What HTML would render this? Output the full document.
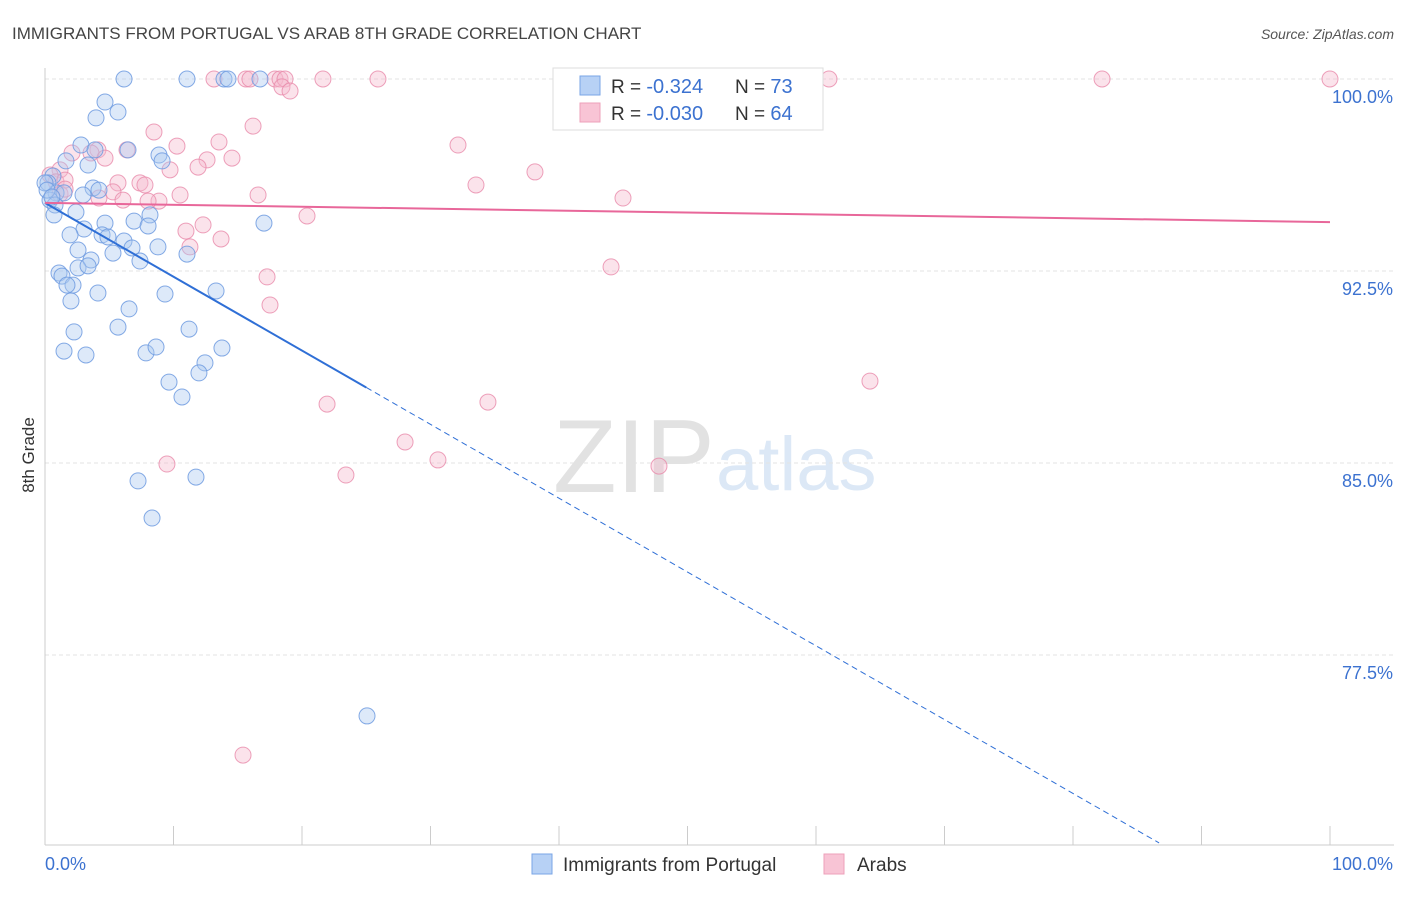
<!DOCTYPE html>
<html><head><meta charset="utf-8"><style>
body{margin:0;background:#fff;font-family:"Liberation Sans",sans-serif}
svg text{font-family:"Liberation Sans",sans-serif}
</style></head><body>
<svg id="chart" width="1406" height="892" xmlns="http://www.w3.org/2000/svg">
<text x="12" y="39" font-size="17" fill="#444">IMMIGRANTS FROM PORTUGAL VS ARAB 8TH GRADE CORRELATION CHART</text>
<text x="1394" y="39" font-size="14" fill="#555" font-style="italic" text-anchor="end">Source: ZipAtlas.com</text>
<g>
<text x="553" y="492" font-size="104" fill="#e2e2e2" font-family="Liberation Serif">ZIP</text>
<text x="716" y="490" font-size="76" fill="#dce8f6">atlas</text>
</g>
<g id="grid"></g>
<g id="axes"></g>
<g id="pts"></g>
<g id="trends"></g>
<text transform="translate(34,455) rotate(-90)" font-size="17" fill="#333" text-anchor="middle">8th Grade</text>
<g>
<rect x="553" y="68" width="270" height="62" fill="#fff" stroke="#ddd"/>
<rect x="580" y="76" width="20" height="19" fill="#b7d1f5" stroke="#7aa5e6"/>
<rect x="580" y="103" width="20" height="19" fill="#f8c4d5" stroke="#eea0ba"/>
<text x="611" y="93" font-size="19" fill="#333">R = <tspan fill="#3c72d0" font-size="20"> -0.324</tspan></text>
<text x="735" y="93" font-size="19" fill="#333">N = <tspan fill="#3c72d0" font-size="20"> 73</tspan></text>
<text x="611" y="120" font-size="19" fill="#333">R = <tspan fill="#3c72d0" font-size="20">-0.030</tspan></text>
<text x="735" y="120" font-size="19" fill="#333">N = <tspan fill="#3c72d0" font-size="20"> 64</tspan></text>
</g>
<g>
<rect x="532" y="854" width="20" height="20" fill="#b7d1f5" stroke="#7aa5e6"/>
<text x="563" y="871" font-size="19" fill="#333">Immigrants from Portugal</text>
<rect x="824" y="854" width="20" height="20" fill="#f8c4d5" stroke="#eea0ba"/>
<text x="857" y="871" font-size="19" fill="#333">Arabs</text>
</g>
</svg>
<script>
const blueX=[6.15,11.05,13.93,14.24,16.73,4.67,5.68,3.97,2.80,6.46,3.89,8.87,9.11,1.63,3.35,0.62,0.23,3.74,4.20,0.86,2.96,1.48,0.39,0.78,2.41,0.70,8.17,4.67,6.93,8.02,17.04,3.04,1.95,4.44,4.90,6.15,6.77,8.79,2.57,5.29,11.05,7.39,3.58,2.57,3.35,1.09,1.32,2.18,1.71,4.12,9.34,13.31,2.02,6.54,2.26,5.68,11.21,1.48,3.19,7.86,8.64,13.77,12.45,11.98,9.65,10.66,7.24,11.75,8.33,25.06,0.0,0.16,0.54];
const blueY=[100,100,100,100,100,99.10,98.71,98.48,97.42,97.23,97.23,97.03,96.80,96.80,96.64,96.21,95.94,95.74,95.66,95.55,95.47,95.55,95.27,95.08,94.80,94.69,94.69,94.37,94.45,94.26,94.37,94.14,93.91,93.91,93.83,93.67,93.40,93.44,93.32,93.20,93.16,92.89,92.93,92.62,92.70,92.42,92.30,91.95,91.95,91.64,91.60,91.72,91.33,91.02,90.12,90.31,90.23,89.37,89.22,89.30,89.53,89.49,88.91,88.52,88.16,87.58,84.30,84.45,82.85,75.12,95.94,95.66,95.39];
const pinkX=[13.15,15.64,15.95,17.90,18.29,18.68,21.63,25.91,47.16,61.01,82.26,100,18.44,19.07,8.48,16.19,13.54,10.27,32.14,4.12,6.38,2.10,3.58,12.61,14.55,4.67,11.91,9.73,38.13,1.17,0.39,0.86,1.56,5.68,7.39,7.78,33.54,5.29,10.51,16.58,44.98,1.17,1.56,4.20,6.07,8.87,8.02,20.39,12.30,10.97,13.70,11.28,44.05,17.28,17.51,64.20,21.95,34.47,28.02,30.58,9.49,47.78,23.42,15.41];
const pinkY=[100,100,100,100,100,100,100,100,100,100,100,100,99.69,99.53,97.93,98.16,97.54,97.38,97.42,97.23,97.23,97.11,97.11,96.84,96.91,96.91,96.56,96.45,96.37,96.45,96.25,95.98,96.05,95.94,95.94,95.86,95.86,95.59,95.47,95.47,95.35,95.51,95.70,95.35,95.27,95.23,95.23,94.65,94.30,94.06,93.75,93.44,92.66,92.27,91.17,88.20,87.30,87.38,85.82,85.12,84.96,84.88,84.53,73.59];
const yTicks=[100,92.5,85,77.5];
const yTickLabels=["100.0%","92.5%","85.0%","77.5%"];
const blueTrend=[0,95.16,25,87.95,86.7,70.16];
const pinkTrend=[0,95.16,100,94.41];
const NS="http://www.w3.org/2000/svg";
const X=v=>45+v*12.85, Y=v=>79+(100-v)*25.6;
function mk(t,a,p){const e=document.createElementNS(NS,t);for(const k in a)e.setAttribute(k,a[k]);p.appendChild(e);return e;}
const grid=document.getElementById('grid'),axes=document.getElementById('axes'),pts=document.getElementById('pts'),tr=document.getElementById('trends');
yTicks.forEach((t,i)=>{const l=mk('line',{x1:45,x2:1394,y1:Y(t),y2:Y(t),stroke:'#e3e3e3','stroke-dasharray':'4,3'},grid);


const tx=mk('text',{x:1393,y:Y(t)+24,'font-size':18,fill:'#3c72d0','text-anchor':'end'},axes);tx.textContent=yTickLabels[i];

});
mk('line',{x1:45,x2:45,y1:68,y2:845,stroke:'#ccc'},axes);
mk('line',{x1:45,x2:1394,y1:845,y2:845,stroke:'#ccc'},axes);
for(let i=0;i<=10;i++){mk('line',{x1:X(i*10),x2:X(i*10),y1:826,y2:845,stroke:'#ccc'},axes);}
let t1=mk('text',{x:45,y:870,'font-size':18,fill:'#3c72d0'},axes);t1.textContent='0.0%';


let t2=mk('text',{x:1393,y:870,'font-size':18,fill:'#3c72d0','text-anchor':'end'},axes);t2.textContent='100.0%';


pinkX.forEach((x,i)=>{const c=mk('circle',{cx:X(x),cy:Y(pinkY[i]),r:8,fill:'#f5b8cd','fill-opacity':0.4,stroke:'#e98aaa','stroke-opacity':0.8,'stroke-width':1},pts);

});
blueX.forEach((x,i)=>{const c=mk('circle',{cx:X(x),cy:Y(blueY[i]),r:8,fill:'#a9c8f0','fill-opacity':0.4,stroke:'#6f9be0','stroke-opacity':0.85,'stroke-width':1},pts);

});
let b1=mk('line',{x1:X(blueTrend[0]),y1:Y(blueTrend[1]),x2:X(blueTrend[2]),y2:Y(blueTrend[3]),stroke:'#2f6fd6','stroke-width':2},tr);


let b2=mk('line',{x1:X(blueTrend[2]),y1:Y(blueTrend[3]),x2:X(blueTrend[4]),y2:Y(blueTrend[5]),stroke:'#2f6fd6','stroke-width':1,'stroke-dasharray':'6,4'},tr);


let p1=mk('line',{x1:X(pinkTrend[0]),y1:Y(pinkTrend[1]),x2:X(pinkTrend[2]),y2:Y(pinkTrend[3]),stroke:'#e8679a','stroke-width':2},tr);


</script>
</body></html>
